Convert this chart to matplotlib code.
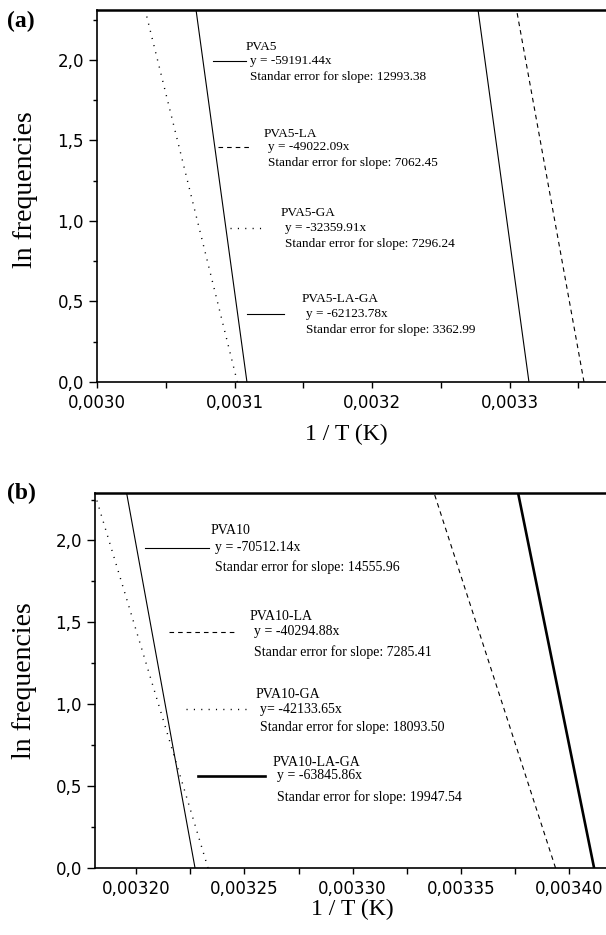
import matplotlib
matplotlib.use("Agg")
import matplotlib.pyplot as plt
from matplotlib.ticker import MultipleLocator, FuncFormatter
from matplotlib.lines import Line2D

plt.rcParams['lines.scale_dashes'] = False

W, H = 606, 935

# ---- panel (a) data ----
a_names = ['PVA5', 'PVA5-LA', 'PVA5-GA', 'PVA5-LA-GA']
a_eqs = ['y = -59191.44x', 'y = -49022.09x', 'y = -32359.91x', 'y = -62123.78x']
a_errs = ['Standar error for slope: 12993.38', 'Standar error for slope: 7062.45',
          'Standar error for slope: 7296.24', 'Standar error for slope: 3362.99']
# line ends: (1/T at y=0, 1/T at top)
a_x0 = [0.003314, 0.003354, 0.003102, 0.003109]
a_x1 = [0.003277, 0.003305, 0.003035, 0.003072]
a_y1 = [2.31, 2.31, 2.31, 2.31]

# ---- panel (b) data ----
b_names = ['PVA10', 'PVA10-LA', 'PVA10-GA', 'PVA10-LA-GA']
b_eqs = ['y = -70512.14x', 'y = -40294.88x', 'y= -42133.65x', 'y = -63845.86x']
b_errs = ['Standar error for slope: 14555.96', 'Standar error for slope: 7285.41',
          'Standar error for slope: 18093.50', 'Standar error for slope: 19947.54']
b_x0 = [0.0032272, 0.0033937, 0.0032332, 0.0034115]
b_x1 = [0.0031956, 0.0033376, 0.0031815, 0.0033764]
b_y1 = [2.29, 2.29, 2.26, 2.29]

styles = [dict(ls='-', lw=0.8),
          dict(ls=(0, (3.3, 2.9)), lw=0.8),
          dict(ls=(0, (0.8, 4.5)), lw=1.0),
          dict(ls='-', lw=0.8)]
b_styles = [dict(ls='-', lw=0.8),
            dict(ls=(0, (3.3, 2.9)), lw=0.8),
            dict(ls=(0, (0.8, 4.5)), lw=1.0),
            dict(ls='-', lw=1.9)]

serif = ['Liberation Serif', 'DejaVu Serif']

fig = plt.figure(figsize=(W / 100, H / 100), dpi=100)


def px(x, y):
    return x / W, 1 - y / H


def make_axes(left, top, right, bottom):
    return fig.add_axes([left / W, 1 - bottom / H, (right - left) / W, (bottom - top) / H])


def style_axes(ax, xmaj, xmin, xfmt):
    ax.spines['right'].set_visible(False)
    ax.spines['top'].set_linewidth(1.8)
    ax.spines['left'].set_linewidth(1.2)
    ax.spines['bottom'].set_linewidth(1.2)
    ax.xaxis.set_major_locator(MultipleLocator(xmaj))
    ax.xaxis.set_minor_locator(MultipleLocator(xmin))
    ax.yaxis.set_major_locator(MultipleLocator(0.5))
    ax.yaxis.set_minor_locator(MultipleLocator(0.25))
    ax.xaxis.set_major_formatter(FuncFormatter(lambda v, p: xfmt.format(v).replace('.', ',')))
    ax.yaxis.set_major_formatter(FuncFormatter(lambda v, p: '{:.1f}'.format(v).replace('.', ',')))
    ax.tick_params(which='both', direction='out', top=False, right=False, width=1.0)
    ax.tick_params(axis='y', which='major', length=5.5, pad=4, labelsize=12)
    ax.tick_params(axis='y', which='minor', length=3)
    ax.tick_params(axis='x', which='both', length=4, pad=5, labelsize=12)


def legend_entry(name, eq, err, tx, ty, lx0, lx1, ly, st, fs, ey, ry):
    fig.text(*px(tx, ty), name, family=serif, fontsize=fs, va='center', ha='left')
    fig.text(*px(tx + 4, ey), eq, family=serif, fontsize=fs, va='center', ha='left')
    fig.text(*px(tx + 4, ry), err, family=serif, fontsize=fs, va='center', ha='left')
    xa, ya = px(lx0, ly)
    xb, yb = px(lx1, ly)
    fig.add_artist(Line2D([xa, xb], [ya, yb], transform=fig.transFigure,
                          color='black', linestyle=st['ls'], linewidth=st['lw']))


# ---------------- panel (a) ----------------
axa = make_axes(97, 10, 606, 382)
for x0, x1, y1, st in zip(a_x0, a_x1, a_y1, [styles[3], styles[1], styles[2], styles[0]]):
    axa.plot([x0, x1], [0, y1], color='black', linestyle=st['ls'], linewidth=st['lw'])
axa.set_xlim(0.0030, 0.003370)
axa.set_ylim(0, 2.31)
style_axes(axa, 0.0001, 0.00005, '{:.4f}')
axa.text(0.489, -0.142, '1 / T (K)', transform=axa.transAxes, ha='center', va='center',
         family=serif, fontsize=17)
axa.text(-0.141, 0.516, 'ln frequencies', transform=axa.transAxes, ha='center', va='center',
         rotation=90, family=serif, fontsize=20)
fig.text(*px(7, 21), '(a)', family=serif, fontsize=17, fontweight='bold', va='center')

a_pos = [  # text x, name y, sample x0, x1, sample y, eq y, err y
    (246, 47, 213, 246, 61, 61, 77),
    (264, 134, 218, 251, 147, 147, 163),
    (281, 213, 230, 266, 228, 228, 244),
    (302, 299, 247, 284, 314, 314, 330),
]
for name, eq, err, pos, st in zip(a_names, a_eqs, a_errs, a_pos, styles):
    tx, ny, lx0, lx1, ly, ey, ry = pos
    legend_entry(name, eq, err, tx, ny, lx0, lx1, ly, st, 9.5, ey, ry)

# ---------------- panel (b) ----------------
axb = make_axes(95, 493, 606, 868)
for x0, x1, y1, st in zip(b_x0, b_x1, b_y1, b_styles):
    axb.plot([x0, x1], [0, y1], color='black', linestyle=st['ls'], linewidth=st['lw'])
axb.set_xlim(0.003181, 0.003417)
axb.set_ylim(0, 2.29)
style_axes(axb, 0.00005, 0.000025, '{:.5f}')
axb.text(0.503, -0.11, '1 / T (K)', transform=axb.transAxes, ha='center', va='center',
         family=serif, fontsize=17)
axb.text(-0.137, 0.5, 'ln frequencies', transform=axb.transAxes, ha='center', va='center',
         rotation=90, family=serif, fontsize=20)
fig.text(*px(7, 493), '(b)', family=serif, fontsize=17, fontweight='bold', va='center')

b_pos = [
    (211, 530, 145, 209, 548, 548, 567),
    (250, 617, 169, 237, 632, 632, 652),
    (256, 695, 186, 247, 709, 709, 727),
    (273, 762, 198, 265, 776, 776, 797),
]
for name, eq, err, pos, st in zip(b_names, b_eqs, b_errs, b_pos, b_styles):
    tx, ny, lx0, lx1, ly, ey, ry = pos
    legend_entry(name, eq, err, tx, ny, lx0, lx1, ly, st, 10, ey, ry)

fig.savefig('out.png', dpi=100)
